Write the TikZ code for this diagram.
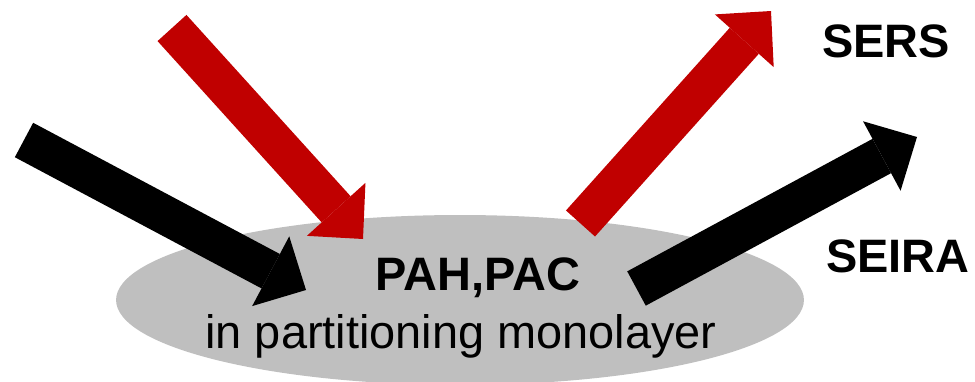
\documentclass[tikz,border=0pt]{standalone}
\usepackage{fontspec}
\setmainfont{Liberation Sans}
\usetikzlibrary{arrows.meta,shapes.geometric}
\definecolor{beamred}{HTML}{C00000}
\definecolor{layergray}{HTML}{BFBFBF}
\tikzset{
  beam/.style={line width=0.78cm,-{Triangle[width=1.58cm,length=0.8cm,line width=0pt]}},
  label/.style={font=\fontsize{26.7}{32}\selectfont,inner sep=0pt}
}
\begin{document}
\begin{tikzpicture}[x=0.02cm,y=-0.02cm]
  \useasboundingbox (0,0) rectangle (975,382);
  \node (layer) [ellipse,fill=layergray,minimum width=13.76cm,minimum height=3.4cm,inner sep=0pt] at (460,300) {};
  \draw
    (172,28) coordinate (redin)
    (363,239) coordinate (redhit)
    (24,140) coordinate (irin)
    (306,290) coordinate (irhit)
    (580.5,223.5) coordinate (redout)
    (771,11) coordinate (sers)
    (636.5,288.5) coordinate (irout)
    (917,137) coordinate (seira);
  \begin{scope}[beam]
    \draw[beamred] (redin) to (redhit);
    \draw (irin) to (irhit);
    \draw[beamred] (redout) to (sers);
    \draw (irout) to (seira);
  \end{scope}
  \node (pah) [label,anchor=base,font=\fontsize{26.7}{32}\selectfont\bfseries] at (478,290) {PAH,PAC};
  \node (mono) [label,anchor=base] at (461,348) {in partitioning monolayer};
  \node (serslabel) [label,anchor=base west,font=\fontsize{26.7}{32}\selectfont\bfseries] at (822,57) {SERS};
  \node (seiralabel) [label,anchor=base west,font=\fontsize{26.7}{32}\selectfont\bfseries] at (826,272) {SEIRA};
\end{tikzpicture}
\end{document}
